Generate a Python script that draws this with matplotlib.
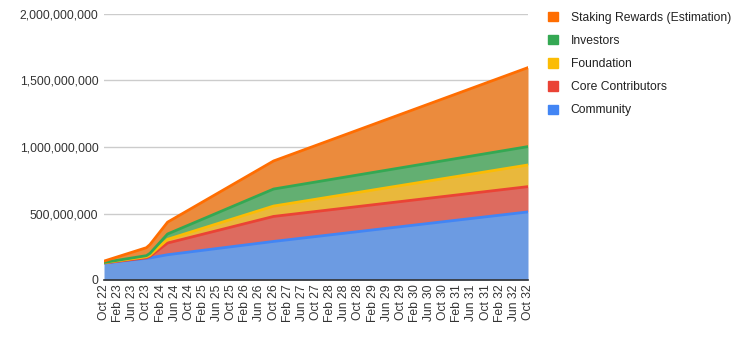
import matplotlib
matplotlib.use("Agg")
import matplotlib.pyplot as plt
from matplotlib.patches import Patch
from matplotlib.ticker import FuncFormatter

# months since Oct 22 where the lines bend
months = [0, 12, 13, 18, 48, 120]

# token amounts in millions at those months
community = [128, 163, 166, 190, 290, 512]
core_contributors = [0, 4, 12, 88, 188, 190]
foundation = [2, 8, 9, 28, 78, 163]
investors = [2, 8, 13, 40, 128, 138]
staking = [10, 60, 66, 89, 211, 594]

tick_labels = []
for yr in range(22, 33):
    for mon in ["Feb", "Jun", "Oct"]:
        if yr == 22 and mon != "Oct":
            continue
        tick_labels.append(f"{mon} {yr}")

series = [
    ("Community", community, "#4285F4", "#6C9BE2"),
    ("Core Contributors", core_contributors, "#EA4335", "#DD6B5F"),
    ("Foundation", foundation, "#FBBC04", "#E9B83C"),
    ("Investors", investors, "#34A853", "#63AF72"),
    ("Staking Rewards (Estimation)", staking, "#FF6D01", "#EB8B3D"),
]

plt.rcParams["font.family"] = ["Liberation Sans", "DejaVu Sans"]

fig = plt.figure(figsize=(7.53, 3.47), dpi=100)
ax = fig.add_axes([104 / 753, 1 - 280 / 347, 424 / 753, 266 / 347])

bottom = [0] * len(months)
for name, vals, line_c, fill_c in series:
    top = [b + v * 1e6 for b, v in zip(bottom, vals)]
    ax.fill_between(months, bottom, top, color=fill_c, linewidth=0, zorder=2)
    ax.plot(months, top, color=line_c, linewidth=2, zorder=3, solid_joinstyle="round")
    bottom = top

ax.set_xlim(0, 120)
ax.set_ylim(0, 2e9)
ax.set_yticks([0, 5e8, 1e9, 1.5e9, 2e9])
ax.yaxis.set_major_formatter(FuncFormatter(lambda v, p: f"{int(v):,}"))
ax.set_xticks(range(0, 121, 4))
ax.set_xticklabels(tick_labels, rotation=90)
ax.tick_params(axis="both", length=0, labelsize=8.7, colors="#333333")
ax.tick_params(axis="y", pad=4)
ax.tick_params(axis="x", pad=3)
ax.grid(axis="y", color="#cccccc", linewidth=1, zorder=0)
ax.set_axisbelow(True)
for s in ["left", "right", "top"]:
    ax.spines[s].set_visible(False)
ax.spines["bottom"].set_color("#333333")
ax.spines["bottom"].set_linewidth(1.2)
ax.spines["bottom"].set_zorder(5)

handles = [Patch(facecolor=lc, edgecolor=lc, label=n) for n, v, lc, fc in reversed(series)]
fig.legend(handles=handles, loc="upper left", bbox_to_anchor=(537 / 753, 1 - 1 / 347),
           frameon=False, fontsize=8.7, handlelength=0.8, handleheight=0.8,
           handletextpad=1.1, labelspacing=0.92, labelcolor="#222222")

fig.savefig("out.png", dpi=100)
